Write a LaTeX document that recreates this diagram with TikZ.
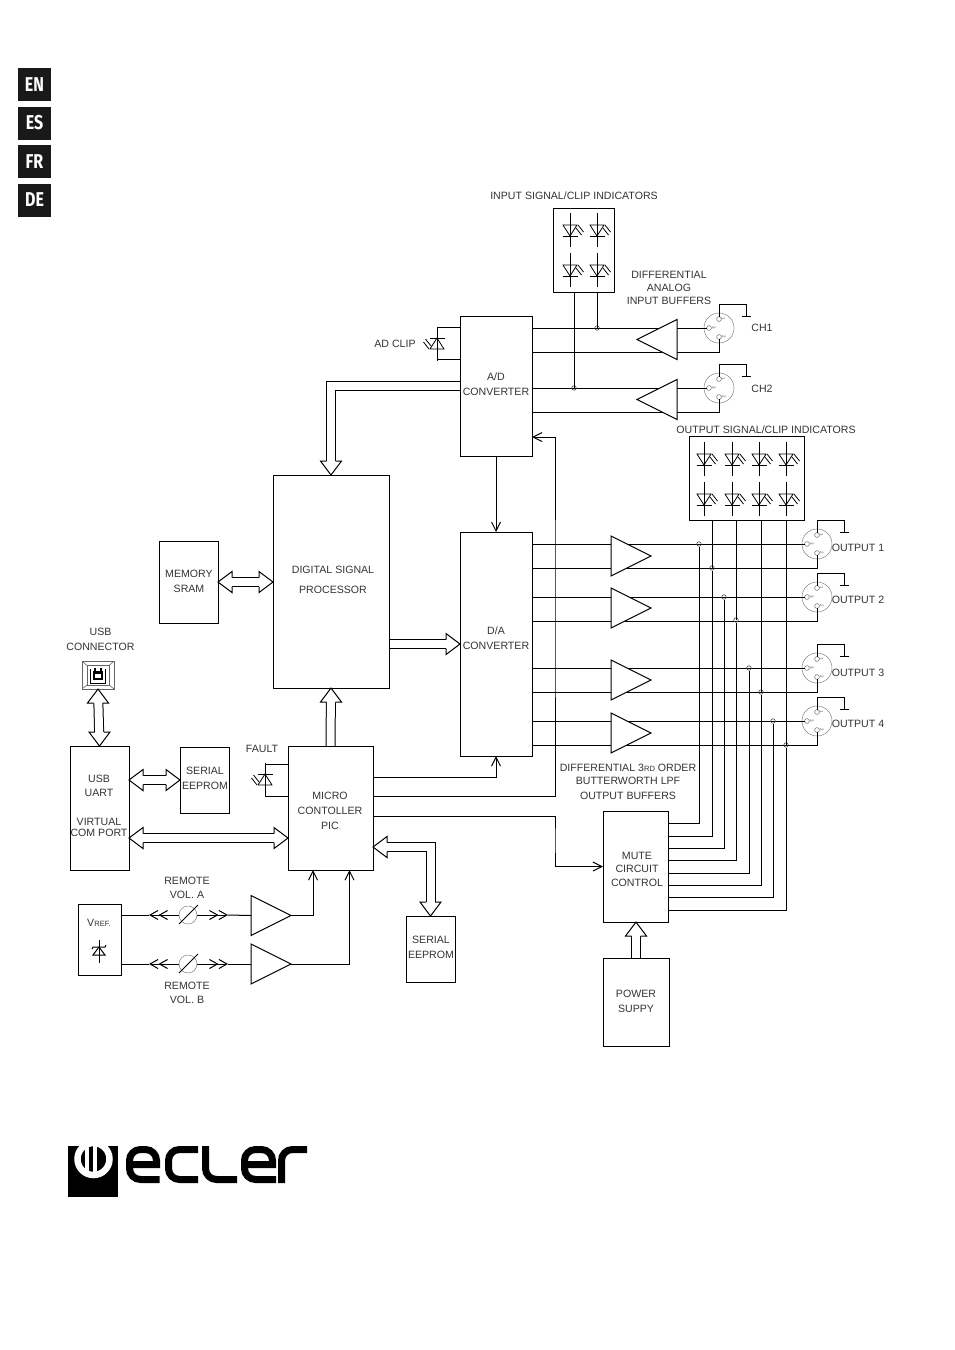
\documentclass[tikz,border=0pt]{standalone}
\usepackage{fontspec}
\setmainfont{Liberation Sans}
\newfontfamily\tabfont{Fira Sans}
\usetikzlibrary{arrows.meta, shapes.geometric, backgrounds}
\newcommand{\smc}[1]{{\fontsize{7.6}{9}\selectfont #1}}
\tikzset{
    block/.style={rectangle, draw=black, inner sep=0pt, outer sep=0pt},
    lbl/.style={font=\fontsize{10.6}{13.3}\selectfont, text=black!80, inner sep=0pt, align=center, yshift=-0.7pt},
    tabBox/.style={rectangle, fill=black!90, text=white, minimum size=33, inner sep=0pt, font=\tabfont\bfseries\fontsize{20}{20}\selectfont},
    bufAmp/.style={isosceles triangle, isosceles triangle stretches, draw=black, fill=white, minimum width=40, minimum height=40, inner sep=0pt, outer sep=0pt, anchor=lower side},
    jct/.style={circle, draw=black!70, line width=0.6pt, inner sep=0pt, minimum size=4.5},
    potRim/.style={circle, draw=black!50, fill=white, line width=0.5pt, inner sep=0pt, minimum size=18},
    bus/.style={line width=1pt, double, double distance=8pt, shorten >=14pt},
    busTwo/.style={bus, shorten <=14pt},
    chevTip/.tip={Straight Barb[length=8pt, width=9pt] Straight Barb[length=8pt, width=9pt]},
    pics/busHead/.style={code={
        \draw[fill=white] (-14,-4.5) -- (-14,-10.5) -- (0,0) -- (-14,10.5) -- (-14,4.5);
    }},
    pics/ledMark/.style={code={
        \draw[line width=0.8pt] (0,-17) -- (0,17);
        \draw[line width=0.8pt] (-7.5,6) -- (7.5,6);
        \draw[line width=0.8pt] (-7,-5) -- (7,-5) -- (0,6) -- cycle;
        \draw[line width=0.8pt] (8,-5) -- (13.5,2);
        \draw[line width=0.8pt] (6,-2) -- (11.5,5);
    }},
    pics/sockMark/.style={code={
        \node[potRim, minimum size=30, fill=none] (rim) at (0,0) {};
        \draw[line width=0.5pt, black!60] (0,-9) circle (2.4);
        \draw[line width=0.5pt, black!60] (-10,0) circle (2.4);
        \draw[line width=0.5pt, black!60] (0,9) circle (2.4);
        \node[rotate=-90, font=\fontsize{4.5}{5}\selectfont, text=black!70, inner sep=0pt] (pone) at (4.5,-9) {1};
        \node[rotate=-90, font=\fontsize{4.5}{5}\selectfont, text=black!70, inner sep=0pt] (pthree) at (-5,0) {3};
        \node[rotate=-90, font=\fontsize{4.5}{5}\selectfont, text=black!70, inner sep=0pt] (ptwo) at (5,9) {2};
        \coordinate (hot) at (-12.4,0);
        \coordinate (cold) at (0,11.4);
        \coordinate (turn) at (0,24);
        \draw (0,-11.4) -- (0,-24) -- (27,-24) -- (27,-12);
        \draw (22.5,-12) -- (31.5,-12);
    }}
}
\begin{document}
\begin{tikzpicture}[x=1pt, y=-1pt, line width=1pt, >={Straight Barb[length=9pt, width=9pt]}]
    \useasboundingbox (0,0) rectangle (954,1350);
    % --- Language tabs ---
    \node[tabBox] (tabEn) at (34.5,84.5) {\scalebox{.8}[1]{EN}};
    \node[tabBox] (tabEs) at (34.5,123) {\scalebox{.8}[1]{ES}};
    \node[tabBox] (tabFr) at (34.5,161.5) {\scalebox{.8}[1]{FR}};
    \node[tabBox] (tabDe) at (34.5,200) {\scalebox{.8}[1]{DE}};

    % --- Blocks ---
    \node[block, minimum width=72, minimum height=140] (ad) at (496,386) {};
    \node[block, minimum width=72, minimum height=224] (da) at (496,644) {};
    \node[block, minimum width=116, minimum height=213] (dsp) at (331,581.5) {};
    \node[block, minimum width=59, minimum height=82] (sram) at (188.5,582) {};
    \node[block, minimum width=59, minimum height=124] (uart) at (99.5,808) {};
    \node[block, minimum width=49, minimum height=66] (eepa) at (204.5,780) {};
    \node[block, minimum width=85, minimum height=124] (mcu) at (330.5,808) {};
    \node[block, minimum width=43, minimum height=71] (vref) at (99.5,939.5) {};
    \node[block, minimum width=49, minimum height=66] (eepb) at (430.5,949) {};
    \node[block, minimum width=65, minimum height=111] (mute) at (635.5,866.5) {};
    \node[block, minimum width=66, minimum height=88] (power) at (636,1002) {};
    \node[block, minimum width=61, minimum height=84] (iind) at (583.5,250) {};
    \node[block, minimum width=115, minimum height=84] (oind) at (746.5,478) {};

    % --- Block texts ---
    \node[lbl] (adTxt) at (496,383.5) {A/D\\[1.7pt]CONVERTER};
    \node[lbl] (daTxt) at (496,637.5) {D/A\\[1.7pt]CONVERTER};
    \node[lbl] (dspTxt) at (333,579) {DIGITAL SIGNAL\\[6.7pt]PROCESSOR};
    \node[lbl] (sramTxt) at (189,580.5) {MEMORY\\[1.7pt]SRAM};
    \node[lbl] (uartTxt) at (99,805.5) {USB\\UART\\[16pt]VIRTUAL\\[-2pt]COM PORT};
    \node[lbl] (eepaTxt) at (205,777.5) {SERIAL\\[1.7pt]EEPROM};
    \node[lbl] (mcuTxt) at (330,810) {MICRO\\[1.7pt]CONTOLLER\\[1.7pt]PIC};
    \node[lbl] (vrefTxt) at (99,922) {V\smc{REF.}};
    \node[lbl] (eepbTxt) at (431,946.5) {SERIAL\\[1.7pt]EEPROM};
    \node[lbl] (muteTxt) at (637,868.5) {MUTE\\CIRCUIT\\CONTROL};
    \node[lbl] (powerTxt) at (636,1000.5) {POWER\\[1.7pt]SUPPY};

    % --- Free labels ---
    \node[lbl] (iindTxt) at (574,195) {INPUT SIGNAL/CLIP INDICATORS};
    \node[lbl] (oindTxt) at (766,429) {OUTPUT SIGNAL/CLIP INDICATORS};
    \node[lbl] (ibufTxt) at (669,287) {DIFFERENTIAL\\ANALOG\\INPUT BUFFERS};
    \node[lbl] (obufTxt) at (628,781) {DIFFERENTIAL 3\smc{RD} ORDER\\BUTTERWORTH LPF\\[1pt]OUTPUT BUFFERS};
    \node[lbl] (adclipTxt) at (395,343) {AD CLIP};
    \node[lbl] (faultTxt) at (262,748) {FAULT};
    \node[lbl] (usbTxt) at (100.5,638.5) {USB\\[1.7pt]CONNECTOR};
    \node[lbl] (remaTxt) at (187,887) {REMOTE\\VOL. A};
    \node[lbl] (rembTxt) at (187,992) {REMOTE\\VOL. B};
    \node[lbl] (chaTxt) at (762,327) {CH1};
    \node[lbl] (chbTxt) at (762,388) {CH2};
    \node[lbl] (outaTxt) at (858,547) {OUTPUT 1};
    \node[lbl] (outbTxt) at (858,599) {OUTPUT 2};
    \node[lbl] (outcTxt) at (858,672) {OUTPUT 3};
    \node[lbl] (outdTxt) at (858,723) {OUTPUT 4};

    % --- Indicator LEDs ---
    \pic at (570,230) {ledMark}; \pic at (597,230) {ledMark};
    \pic at (570,270) {ledMark}; \pic at (597,270) {ledMark};
    \pic at (704,459) {ledMark}; \pic at (732,459) {ledMark};
    \pic at (759,459) {ledMark}; \pic at (786,459) {ledMark};
    \pic at (704,499) {ledMark}; \pic at (732,499) {ledMark};
    \pic at (759,499) {ledMark}; \pic at (786,499) {ledMark};
    \pic[rotate=180] at (437,344) {ledMark};
    \pic[rotate=180] at (265,780) {ledMark};
    \draw ([yshift=59pt]ad.west) -- (437,327);
    \draw ([yshift=27pt]ad.west) -- (437,359);
    \draw ([yshift=44pt]mcu.west) -- (265,764);
    \draw ([yshift=12pt]mcu.west) -- (265,796);

    % --- Sockets ---
    \pic (ca-) at (719,328) {sockMark};
    \pic (cb-) at (719,388) {sockMark};
    \pic (oa-) at (817,544) {sockMark};
    \pic (ob-) at (817,597) {sockMark};
    \pic (oc-) at (817,668) {sockMark};
    \pic (od-) at (817,721) {sockMark};
    \draw (ad.east |- ca-hot) -- (ca-hot);
    \draw (ad.east |- ca-turn) -- (ca-turn) -- (ca-cold);
    \draw (ad.east |- cb-hot) -- (cb-hot);
    \draw (ad.east |- cb-turn) -- (cb-turn) -- (cb-cold);
    \draw (da.east |- oa-hot) -- (oa-hot);
    \draw (da.east |- oa-turn) -- (oa-turn) -- (oa-cold);
    \draw (da.east |- ob-hot) -- (ob-hot);
    \draw (da.east |- ob-turn) -- (ob-turn) -- (ob-cold);
    \draw (da.east |- oc-hot) -- (oc-hot);
    \draw (da.east |- oc-turn) -- (oc-turn) -- (oc-cold);
    \draw (da.east |- od-hot) -- (od-hot);
    \draw (da.east |- od-turn) -- (od-turn) -- (od-cold);

    % --- Buffers ---
    \node[bufAmp, shape border rotate=180] (iba) at (677,339.5) {};
    \node[bufAmp, shape border rotate=180] (ibb) at (677,399.5) {};
    \node[bufAmp] (oba) at (611,556) {};
    \node[bufAmp] (obb) at (611,608) {};
    \node[bufAmp] (obc) at (611,680) {};
    \node[bufAmp] (obd) at (611,733) {};
    \node[bufAmp] (rba) at (251,915.5) {};
    \node[bufAmp] (rbb) at (251,964) {};

    % --- Junctions ---
    \node[jct] (ja) at (597,328) {};
    \node[jct] (jb) at (574,388) {};
    \node[jct] (jc) at (699,544) {};
    \node[jct] (jd) at (712,568) {};
    \node[jct] (je) at (724,597) {};
    \node[jct] (jf) at (736,620) {};
    \node[jct] (jg) at (749,668) {};
    \node[jct] (jh) at (761,692) {};
    \node[jct] (ji) at (773,721) {};
    \node[jct] (jj) at (786,745) {};
    \draw (iind.south -| ja) -- (ja.center);
    \draw (iind.south -| jb) -- (jb.center);
    \draw (oind.south -| jd) -- (jd.center);
    \draw (oind.south -| jf) -- (jf.center);
    \draw (oind.south -| jh) -- (jh.center);
    \draw (oind.south -| jj) -- (jj.center);

    % --- Mute lines ---
    \draw ([yshift=-12pt]mute.north east) -| (jc);
    \draw ([yshift=-25pt]mute.north east) -| (jd);
    \draw ([yshift=-37pt]mute.north east) -| (je);
    \draw ([yshift=-49pt]mute.north east) -| (jf);
    \draw ([yshift=-62pt]mute.north east) -| (jg);
    \draw ([yshift=-74pt]mute.north east) -| (jh);
    \draw ([yshift=-86pt]mute.north east) -| (ji);
    \draw ([yshift=-99pt]mute.north east) -| (jj);

    % --- Control lines ---
    \coordinate (tapa) at (555,600);
    \coordinate (tapb) at (555,840);
    \draw[->] (ad.south) -- (da.north);
    \draw[->] ([yshift=31pt]mcu.east) -| (da.south);
    \draw[->] ([yshift=12pt]mcu.east) -| (tapa) |- ([yshift=-51pt]ad.east);
    \draw[->] ([yshift=-8pt]mcu.east) -| (tapb) |- (mute.west);
    \draw[->] (rba.apex) -| ([xshift=-17.5pt]mcu.south);
    \draw[->] (rbb.apex) -| ([xshift=19pt]mcu.south);

    % --- Remote volume ---
    \node[potRim] (pota) at (188,915) {};
    \node[potRim] (potb) at (188,964) {};
    \draw (179,924) -- (198,905);
    \draw (179,973) -- (198,954);
    \coordinate (cha) at (149,915); \coordinate (dha) at (228,915);
    \coordinate (chb) at (149,964); \coordinate (dhb) at (228,964);
    \draw ([yshift=24.5pt]vref.east) -- (cha);
    \draw[{chevTip}-] (cha) -- (pota);
    \draw[-{chevTip}] (pota) -- (dha);
    \draw (dha) -- (rba.lower side);
    \draw ([yshift=-24.5pt]vref.east) -- (chb);
    \draw[{chevTip}-] (chb) -- (potb);
    \draw[-{chevTip}] (potb) -- (dhb);
    \draw (dhb) -- (rbb.lower side);
    % zener inside the reference block
    \draw (99,940) -- (99,963);
    \draw (93,955) -- (105,955) -- (99,947) -- cycle;
    \draw (92,949) -- (93,947) -- (105,947) -- (106,945);

    % --- USB connector ---
    \node[block, draw=black!60, line width=0.6pt, minimum width=32, minimum height=28] (usb) at (98,675) {};
    \draw[black!60, line width=0.6pt] (87,665.5) rectangle (109,685);
    \draw[black!60, line width=0.6pt] (usb.north west) -- (87,665.5);
    \draw[black!60, line width=0.6pt] (usb.north east) -- (109,665.5);
    \draw[black!60, line width=0.6pt] (usb.south west) -- (87,685);
    \draw[black!60, line width=0.6pt] (usb.south east) -- (109,685);
    \draw (90.5,669) -- (90.5,683) -- (105.5,683) -- (105.5,669);
    \fill (93,671) rectangle (103,680);
    \fill[white] (95,673.5) rectangle (101,677.5);
    \fill (94,668) rectangle (96,671);
    \fill (100,668) rectangle (102,671);

    % --- Data buses ---
    \begin{scope}[on background layer]
        \draw[busTwo] (usb.south) -- (uart.north);
        \draw[busTwo] (uart.east |- eepa.west) -- (eepa.west);
        \draw[busTwo] ([yshift=-30pt]uart.east) -- ([yshift=-30pt]mcu.west);
        \draw[busTwo] (sram.east) -- (sram.east -| dsp.west);
        \draw[bus] (da.west -| dsp.east) -- (da.west);
        \draw[bus] (mcu.north) -- (dsp.south);
        \draw[bus] (ad.west) -| (dsp.north);
        \draw[busTwo] ([yshift=-39pt]mcu.east) -| (eepb.north);
        \draw[bus] (power.north) -- (mute.south -| power.north);
    \end{scope}
    \pic[rotate=90] at (usb.south) {busHead};
    \pic[rotate=-90] at (uart.north) {busHead};
    \pic[rotate=180] at (uart.east |- eepa.west) {busHead};
    \pic at (eepa.west) {busHead};
    \pic[rotate=180] at ([yshift=-30pt]uart.east) {busHead};
    \pic at ([yshift=-30pt]mcu.west) {busHead};
    \pic[rotate=180] at (sram.east) {busHead};
    \pic at (sram.east -| dsp.west) {busHead};
    \pic at (da.west) {busHead};
    \pic[rotate=90] at (dsp.south) {busHead};
    \pic[rotate=-90] at (dsp.north) {busHead};
    \pic[rotate=180] at ([yshift=-39pt]mcu.east) {busHead};
    \pic[rotate=-90] at (eepb.north) {busHead};
    \pic[rotate=90] at (mute.south -| power.north) {busHead};

    % --- Brand mark ---
    \fill (68,1146) rectangle (118,1197);
    \begin{scope}
        \clip (68,1146) rectangle (118,1197);
        \draw[white, line width=6.5pt] (93.5,1159) circle (16);
    \end{scope}
    \draw[white, line width=4pt] (87,1146) -- (87,1172);
    \draw[white, line width=4pt] (95,1146) -- (95,1172);
    \begin{scope}[line width=7pt]
        \draw (129.5,1164.5) -- (156.5,1164.5) [rounded corners=11pt] -- (156.5,1149.5) -- (129.5,1149.5) -- (129.5,1179.5) -- (159.5,1179.5);
        \draw[rounded corners=11pt] (198,1149.5) -- (168.5,1149.5) -- (168.5,1179.5) -- (198,1179.5);
        \draw[rounded corners=11pt] (205.5,1146) -- (205.5,1179.5) -- (237,1179.5);
        \draw (244.5,1164.5) -- (272.5,1164.5) [rounded corners=11pt] -- (272.5,1149.5) -- (244.5,1149.5) -- (244.5,1179.5) -- (276,1179.5);
        \draw[rounded corners=11pt] (281.5,1183) -- (281.5,1149.5) -- (307,1149.5);
    \end{scope}
\end{tikzpicture}
\end{document}
